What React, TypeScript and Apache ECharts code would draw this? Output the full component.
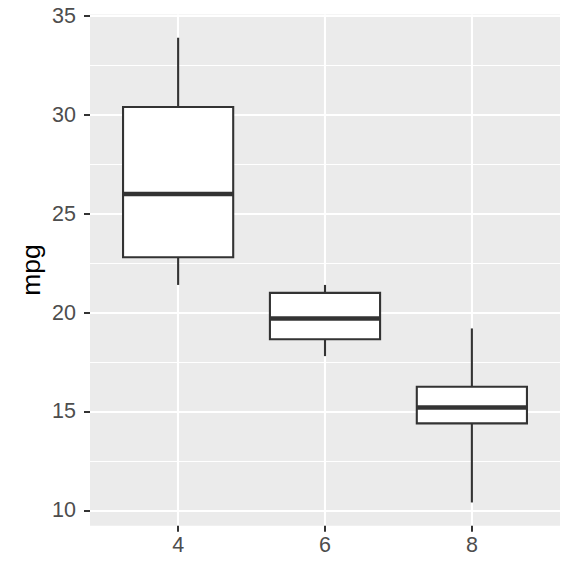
import React, { useEffect, useRef } from "react";
import * as echarts from "echarts";

const categories = ["4", "6", "8"];
// [min, Q1, median, Q3, max]
const boxStats: number[][] = [
  [21.4, 22.8, 26.0, 30.4, 33.9],
  [17.8, 18.65, 19.7, 21.0, 21.4],
  [10.4, 14.4, 15.2, 16.25, 19.2],
];
const yMajorTicks = [10, 15, 20, 25, 30, 35];
const yMinorTicks = [12.5, 17.5, 22.5, 27.5, 32.5];
const xMinorTicks = [1.5, 2.5];
const yTitle = "mpg";

export default function App() {
  const ref = useRef<HTMLDivElement>(null);
  useEffect(() => {
    if (!ref.current) return;
    const chart = echarts.init(ref.current, undefined, { renderer: "svg" });
    const data = boxStats.map((s, i) => [i + 1, ...s]);
    const font = "Liberation Sans, Arial, sans-serif";
    const labelColor = "#4D4D4D";
    chart.setOption({
      animation: false,
      backgroundColor: "#ffffff",
      grid: { left: 90, right: 16, top: 14.5, bottom: 50.3, containLabel: false, show: true, backgroundColor: "#EBEBEB", borderWidth: 0 },
      xAxis: [
        {
          type: "value",
          min: 0.4,
          max: 3.6,
          axisLine: { show: false },
          axisTick: { show: true, length: 6, lineStyle: { color: "#333333", width: 2 }, customValues: [1, 2, 3] },
          axisLabel: {
            customValues: [1, 2, 3],
            formatter: (v: number) => categories[Math.round(v) - 1] ?? "",
            color: labelColor,
            fontSize: 21.5,
            fontFamily: font,
            margin: 8,
          },
          splitLine: { show: true, lineStyle: { color: "#ffffff", width: 2.1 } },
        },
        {
          type: "value",
          min: 0.4,
          max: 3.6,
          position: "bottom",
          axisLine: { show: false },
          axisTick: { show: false, customValues: xMinorTicks },
          axisLabel: { show: false, customValues: xMinorTicks },
          splitLine: { show: false },
        },
      ],
      yAxis: [
        {
          type: "value",
          min: 9.225,
          max: 35.075,
          axisLine: { show: false },
          axisTick: { show: true, length: 6, lineStyle: { color: "#333333", width: 2 }, customValues: yMajorTicks },
          axisLabel: {
            customValues: yMajorTicks,
            color: labelColor,
            fontSize: 21.5,
            fontFamily: font,
            margin: 14,
          },
          splitLine: { show: true, lineStyle: { color: "#ffffff", width: 2.1 } },
        },
        {
          type: "value",
          min: 9.225,
          max: 35.075,
          position: "left",
          axisLine: { show: false },
          axisTick: { show: false, customValues: yMinorTicks },
          axisLabel: { show: false, customValues: yMinorTicks },
          splitLine: { show: true, lineStyle: { color: "#ffffff", width: 1 } },
        },
      ],
      graphic: [
        {
          type: "text",
          x: 31,
          y: 270,
          rotation: Math.PI / 2,
          style: {
            text: yTitle,
            fontSize: 26.5,
            fontFamily: font,
            fill: "#000000",
            textAlign: "center",
            textVerticalAlign: "middle",
          },
        },
      ],
      series: [
        {
          type: "custom",
          xAxisIndex: 0,
          yAxisIndex: 0,
          data,
          encode: { x: 0, y: [1, 2, 3, 4, 5] },
          renderItem: (params: any, api: any) => {
            const x = api.value(0);
            const pMin = api.coord([x, api.value(1)]);
            const pQ1 = api.coord([x, api.value(2)]);
            const pMed = api.coord([x, api.value(3)]);
            const pQ3 = api.coord([x, api.value(4)]);
            const pMax = api.coord([x, api.value(5)]);
            const w = api.size([0.75, 0])[0];
            const cx = pMed[0];
            const stroke = "#333333";
            return {
              type: "group",
              children: [
                { type: "line", shape: { x1: cx, y1: pMax[1], x2: cx, y2: pQ3[1] }, style: { stroke, lineWidth: 2.1 } },
                { type: "line", shape: { x1: cx, y1: pQ1[1], x2: cx, y2: pMin[1] }, style: { stroke, lineWidth: 2.1 } },
                {
                  type: "rect",
                  shape: { x: cx - w / 2, y: pQ3[1], width: w, height: pQ1[1] - pQ3[1] },
                  style: { fill: "#ffffff", stroke, lineWidth: 2.1 },
                },
                { type: "line", shape: { x1: cx - w / 2, y1: pMed[1], x2: cx + w / 2, y2: pMed[1] }, style: { stroke, lineWidth: 4.6 } },
              ],
            };
          },
        },
      ],
    });
    return () => chart.dispose();
  }, []);
  return <div ref={ref} style={{ width: 576, height: 576, position: "absolute", left: 0, top: 0 }} />;
}
